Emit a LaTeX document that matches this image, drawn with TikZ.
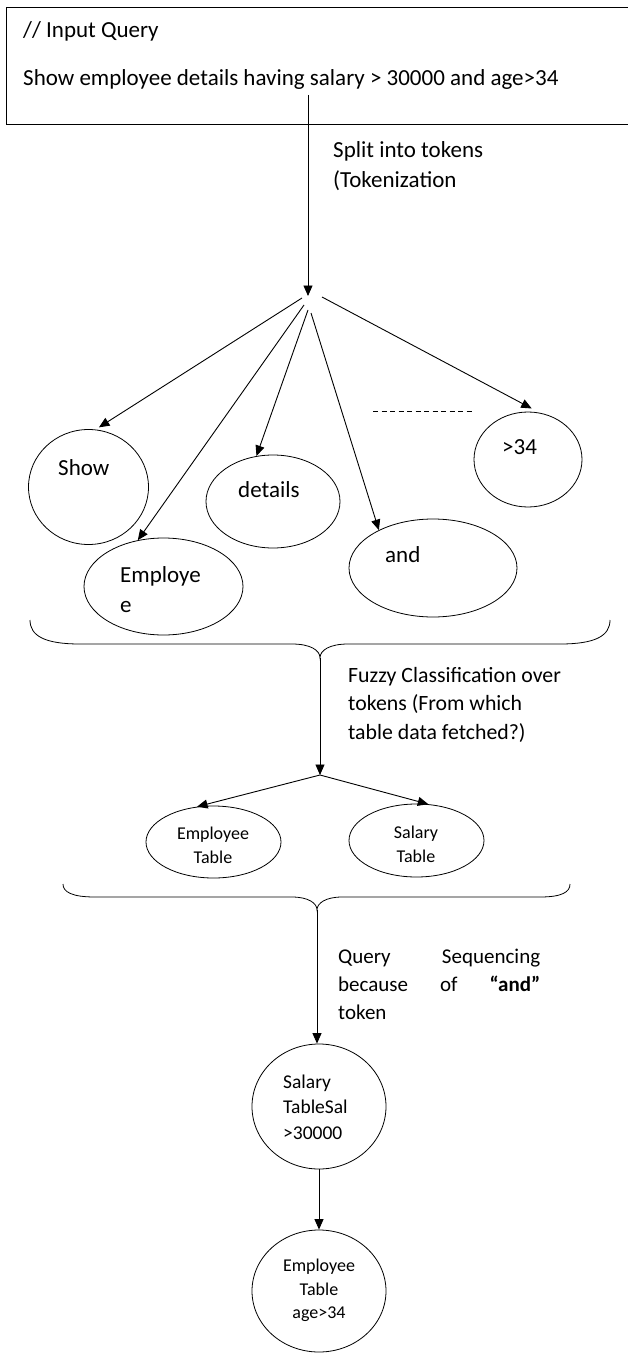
\documentclass[tikz,border=0pt]{standalone}
\usepackage{fontspec}
\setmainfont{Carlito}
\usetikzlibrary{arrows.meta,shapes.geometric}
\begin{document}
\begin{tikzpicture}[x=1pt,y=-1pt,
  arr/.style={-{Triangle[length=10.5pt,width=9pt]}, line width=0.9pt},
  oval/.style={draw, ellipse, line width=0.8pt, inner sep=0pt},
  txt/.style={inner sep=0pt, font=\fontsize{23}{27}\selectfont, anchor=base west},
  fuzzytxt/.style={inner sep=0pt, font=\fontsize{21.8}{26}\selectfont, anchor=base west},
  midtxt/.style={inner sep=0pt, font=\fontsize{21}{25}\selectfont, anchor=base west},
  circtxt/.style={inner sep=0pt, font=\fontsize{19.5}{23}\selectfont, anchor=base west},
  smalltxt/.style={inner sep=0pt, font=\fontsize{18}{21}\selectfont, anchor=base},
  bracepath/.style={line width=0.8pt}]
\useasboundingbox (0,0) rectangle (627,1356);
\fill[white] (0,0) rectangle (627,1356);

% input query box
\node[draw, line width=0.9pt, minimum width=640pt, minimum height=117pt,
      anchor=north west, inner sep=0pt] (q) at (6,7) {};
\node[txt] (qtitle) at (23,38) {// Input Query};
\node[txt] (qtext) at (23,86) {Show employee details having salary > 30000 and age>34};

% tokenization step
\coordinate (qs) at (308,95);
\coordinate (fan) at (308,296);
\draw[arr] (qs) -- (fan);
\node[txt] (split1) at (333,158) {Split into tokens};
\node[txt] (split2) at (333,188) {(Tokenization};

% token ovals
\node[oval, minimum width=120pt, minimum height=115pt] (show) at (88.5,487) {};
\node[oval, minimum width=159pt, minimum height=97pt] (emp) at (163.5,586.5) {};
\node[oval, minimum width=134pt, minimum height=93pt] (det) at (273,501.5) {};
\node[oval, minimum width=168pt, minimum height=98pt] (and) at (433,568) {};
\node[oval, minimum width=108pt, minimum height=95pt] (gt) at (528,459.5) {};

\node[txt] (showt) at (58,475) {Show};
\node[txt] (empt1) at (120,582) {Employe};
\node[txt] (empt2) at (120,612) {e};
\node[txt] (dett) at (238,497) {details};
\node[txt] (andt) at (385,562) {and};
\node[txt] (gtt) at (502,454) {>34};

\draw[arr, shorten >=4pt] ([shift={(-6,2)}]fan) -- (show.83);
\draw[arr] ([shift={(-4,9)}]fan) -- (emp.119);
\draw[arr] ([shift={(0,14)}]fan) -- (det.110);
\draw[arr] ([shift={(3,17)}]fan) -- (and.145);
\draw[arr, shorten >=9pt] ([shift={(14,1)}]fan) -- (gt.76);

\coordinate (d1) at (373,411);
\coordinate (d2) at (474,411);
\draw[line width=0.8pt, dash pattern=on 5pt off 3.5pt] (d1) -- (d2);

% first brace
\coordinate (b1) at (320,658);
\draw[bracepath] (30,620) .. controls (30,636) and (45,644) .. (80,644) -- (292,644)
  .. controls (310,644) and (320,650) .. (b1)
  .. controls (320,650) and (330,644) .. (348,644) -- (560,644)
  .. controls (595,644) and (610,636) .. (610,620);

% fuzzy classification step
\coordinate (fork) at (320,775);
\draw[arr] (b1) -- (fork);
\node[fuzzytxt] (fz1) at (348,682) {Fuzzy Classification over};
\node[fuzzytxt] (fz2) at (348,710) {tokens (From which};
\node[fuzzytxt] (fz3) at (348,739) {table data fetched?)};

\node[oval, minimum width=135pt, minimum height=72pt] (et) at (213.5,842) {};
\node[oval, minimum width=135pt, minimum height=73pt] (st) at (416.5,840.5) {};
\node[smalltxt] (et1) at (213,839) {Employee};
\node[smalltxt] (et2) at (213,863) {Table};
\node[smalltxt] (st1) at (416,838) {Salary};
\node[smalltxt] (st2) at (416,862) {Table};

\draw[arr] (fork) -- (et.115);
\draw[arr] (fork) -- (st.72);

% second brace
\coordinate (b2) at (317,910);
\draw[bracepath] (63,884) .. controls (63,892) and (72,897) .. (95,897) -- (292,897)
  .. controls (308,897) and (317,903) .. (b2)
  .. controls (317,903) and (326,897) .. (342,897) -- (540,897)
  .. controls (562,897) and (570,892) .. (570,884);

% query sequencing step
\node[oval, minimum width=134pt, minimum height=125pt] (sc) at (319,1106.5) {};
\node[oval, minimum width=134pt, minimum height=122pt] (ec) at (319,1291) {};

\draw[arr] (b2) -- (b2 |- sc.north);
\node[midtxt, text width=202pt] (qs1) at (338,963) {Query\hfill Sequencing};
\node[midtxt, text width=202pt] (qs2) at (338,991) {because\hfill of\hfill \textbf{“and”}};
\node[midtxt] (qs3) at (338,1019) {token};

\node[circtxt] (sc1) at (283,1088) {Salary};
\node[circtxt] (sc2) at (283,1113) {TableSal};
\node[circtxt] (sc3) at (283,1139) {>30000};

\draw[arr] (sc.south) -- (ec.north);

\node[smalltxt] (ec1) at (319,1271) {Employee};
\node[smalltxt] (ec2) at (319,1295) {Table};
\node[smalltxt] (ec3) at (319,1318) {age>34};
\end{tikzpicture}
\end{document}
